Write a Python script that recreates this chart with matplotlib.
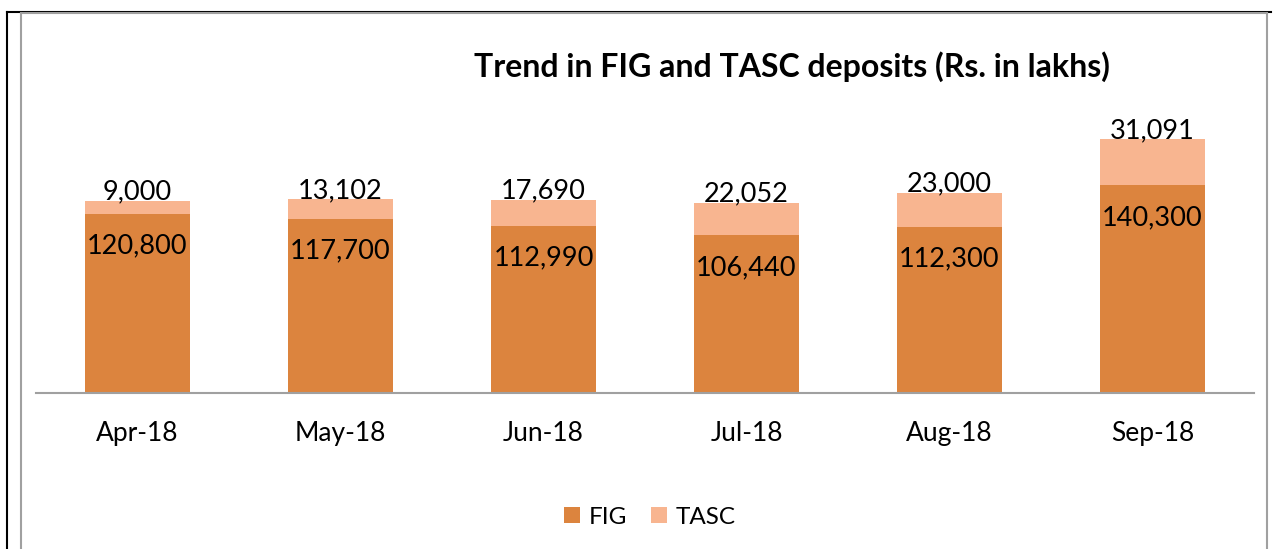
import matplotlib.pyplot as plt
from matplotlib.lines import Line2D
import numpy as np

months = ["Apr-18", "May-18", "Jun-18", "Jul-18", "Aug-18", "Sep-18"]
fig_vals = [120800, 117700, 112990, 106440, 112300, 140300]
tasc_vals = [9000, 13102, 17690, 22052, 23000, 31091]

plt.rcParams["font.family"] = ["Lato", "DejaVu Sans"]

W, H = 1275, 549
fig = plt.figure(figsize=(W / 100, H / 100), dpi=100)

# axes placed in pixel terms
ax_left, ax_right, ax_bottom, ax_top = 36, 1254, 393, 97
ax = fig.add_axes([ax_left / W, 1 - ax_bottom / H,
                   (ax_right - ax_left) / W, (ax_bottom - ax_top) / H])

x = np.arange(len(months))
fig_color = "#DC843E"
tasc_color = "#F8B590"
b1 = ax.bar(x, fig_vals, width=0.52, color=fig_color, label="FIG")
b2 = ax.bar(x, tasc_vals, width=0.52, bottom=fig_vals, color=tasc_color, label="TASC")

for i in range(len(months)):
    ax.annotate(f"{fig_vals[i]:,}", (x[i], fig_vals[i]), xytext=(0, -32),
                textcoords="offset pixels", ha="center", va="center", fontsize=19.5)
    ax.annotate(f"{tasc_vals[i]:,}", (x[i], fig_vals[i] + tasc_vals[i]), xytext=(0, 9),
                textcoords="offset pixels", ha="center", va="center", fontsize=19.5)

ax.set_xlim(-0.5, len(months) - 0.5)
ax.set_ylim(0, 200000)
ax.set_yticks([])
ax.set_xticks(x)
ax.set_xticklabels(months, fontsize=19)
ax.tick_params(axis="x", length=0, pad=20)
for s in ["top", "left", "right"]:
    ax.spines[s].set_visible(False)
ax.spines["bottom"].set_color("#A0A0A0")
ax.spines["bottom"].set_linewidth(1.5)

fig.text(792 / W, 1 - 67 / H, "Trend in FIG and TASC deposits (Rs. in lakhs)",
         ha="center", va="center", fontsize=23, fontweight="bold")

fig.legend(handles=[b1, b2], labels=["FIG", "TASC"], loc="center",
           bbox_to_anchor=(650 / W, 1 - 517 / H), ncol=2, frameon=False,
           fontsize=17.5, handlelength=0.66, handleheight=0.66, handletextpad=0.35,
           columnspacing=1.0)

# outer frame lines
def px_line(x0, y0, x1, y1, color, lw):
    fig.add_artist(Line2D([x0 / W, x1 / W], [1 - y0 / H, 1 - y1 / H],
                          transform=fig.transFigure, color=color, linewidth=lw))

px_line(7, 12, 1271, 12, "black", 1.5)
px_line(7, 12, 7, 549, "black", 1.5)
px_line(21, 13, 1267, 13, "#A0A0A0", 1.5)
px_line(21, 13, 21, 549, "#A0A0A0", 1.5)
px_line(1267, 13, 1267, 549, "#A0A0A0", 1.5)

fig.savefig("out.png", dpi=100)
